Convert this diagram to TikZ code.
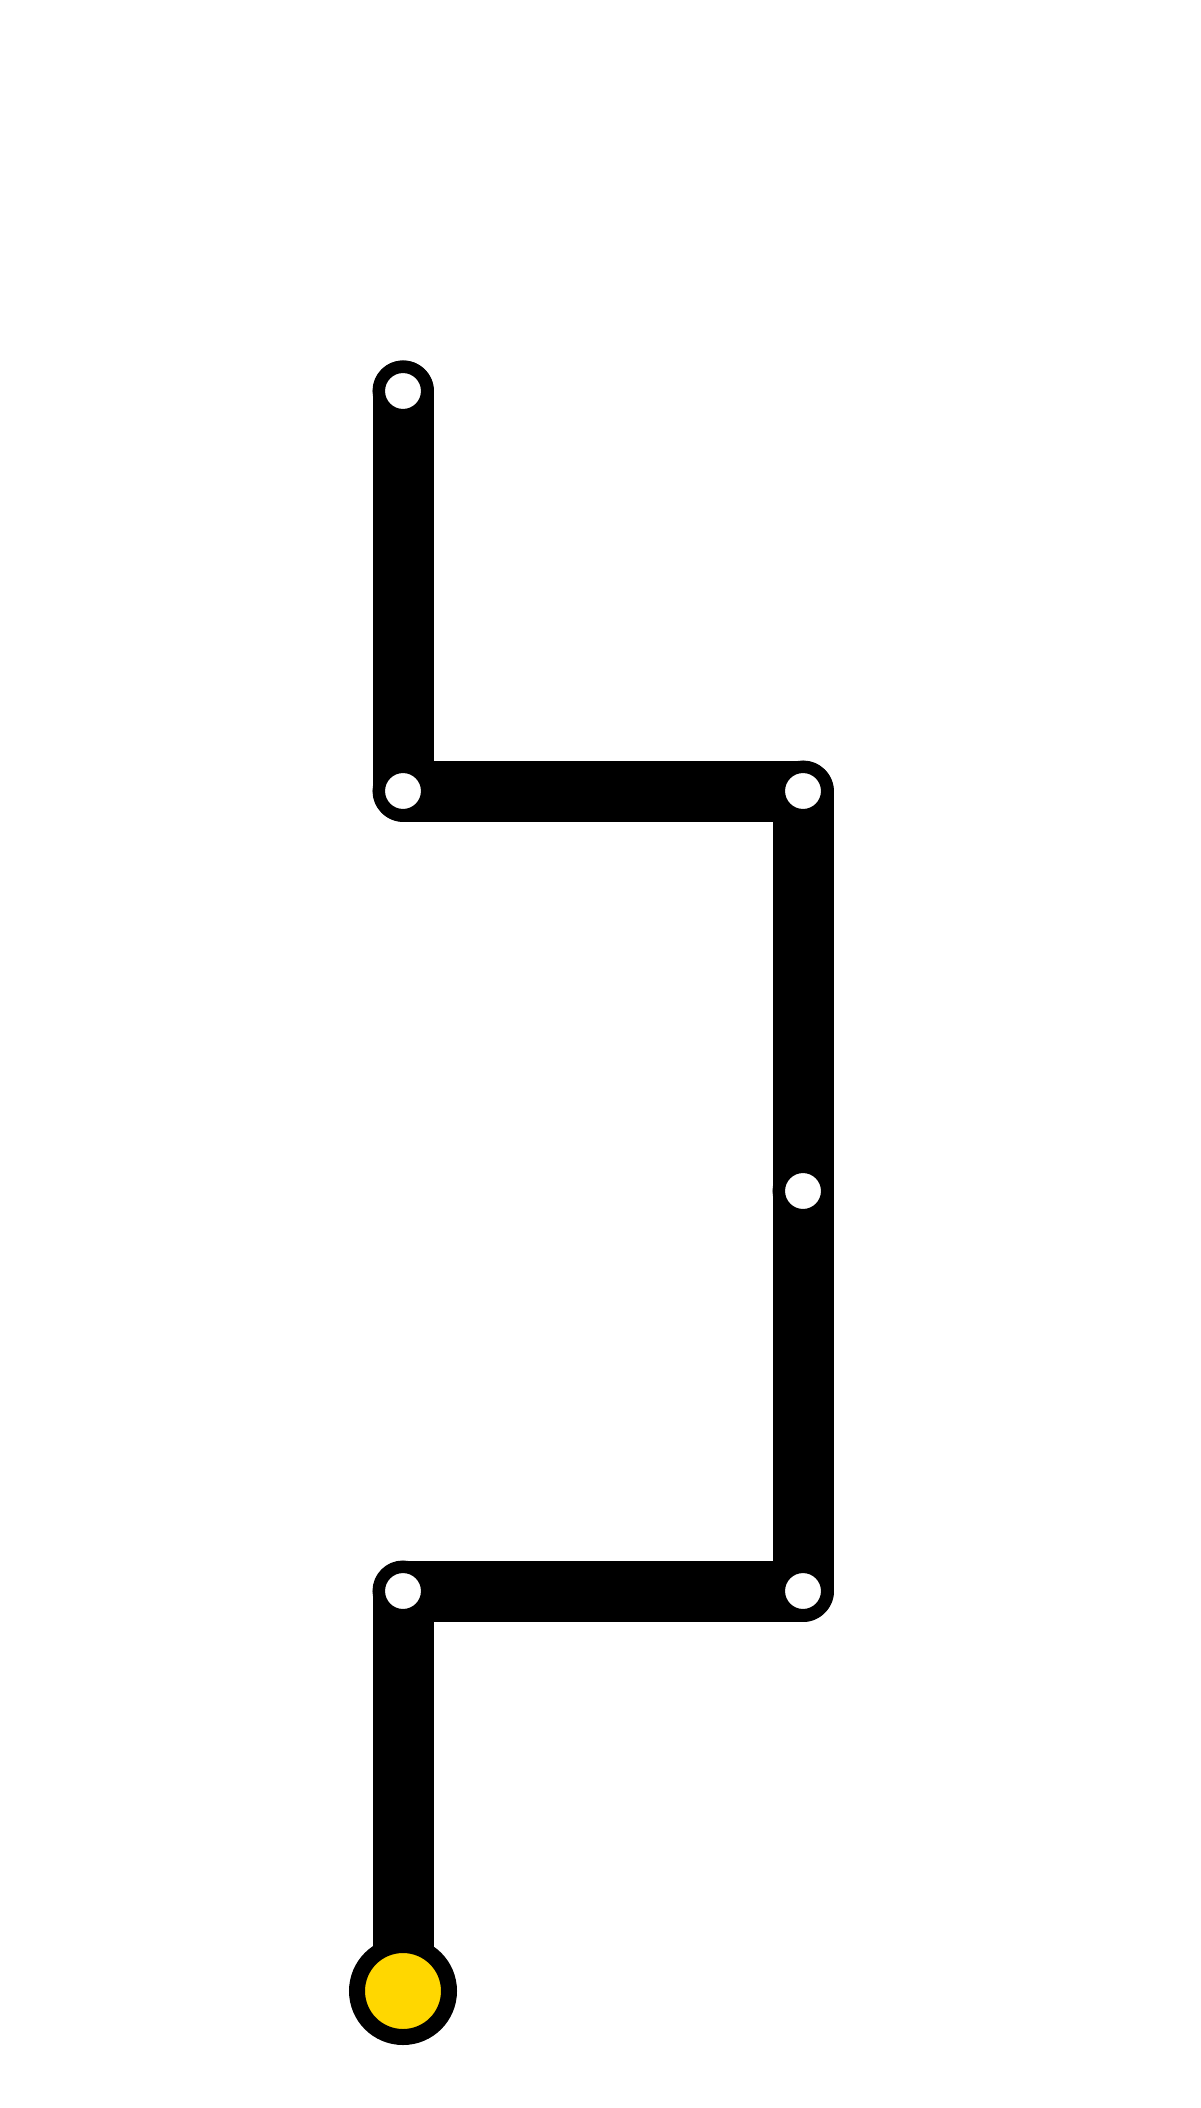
\documentclass[tikz,border=0pt]{standalone}
\definecolor{gold}{RGB}{255,215,0}
\begin{document}
\begin{tikzpicture}[x=0.5pt,y=-0.5pt,
  track/.style={line width=30.5pt,line join=round,line cap=round,black},
  station/.style={circle,inner sep=0pt,minimum size=24.25pt,fill=white,draw=black,line width=6.25pt},
  terminal/.style={circle,inner sep=0pt,minimum size=46pt,fill=gold,draw=black,line width=8pt}]
\useasboundingbox[fill=white] (0,0) rectangle (1200,2108);
\coordinate (a) at (403,391);
\coordinate (b) at (403,791);
\coordinate (c) at (803,791);
\coordinate (d) at (803,1191);
\coordinate (e) at (803,1591);
\coordinate (f) at (403,1591);
\coordinate (g) at (403,1991);
\draw[track] (a) -- (b) -- (c) -- (d) -- (e) -- (f) -- (g);
\node[station] (sa) at (a) {};
\node[station] (sb) at (b) {};
\node[station] (sc) at (c) {};
\node[station] (sd) at (d) {};
\node[station] (se) at (e) {};
\node[station] (sf) at (f) {};
\node[terminal] (sg) at (g) {};
\end{tikzpicture}
\end{document}
